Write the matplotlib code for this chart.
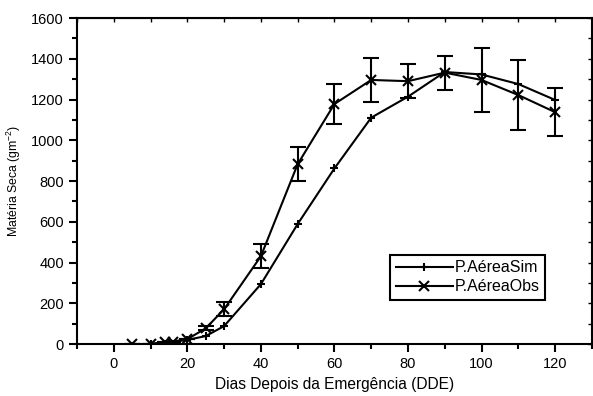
import numpy as np
import matplotlib
matplotlib.use('Agg')
import matplotlib.pyplot as plt
from matplotlib.ticker import MultipleLocator

plt.rcParams['font.family'] = ['Liberation Sans', 'DejaVu Sans']
plt.rcParams['mathtext.fontset'] = 'custom'
plt.rcParams['mathtext.rm'] = 'Liberation Sans'

#Simulated data
dias_sim = [10, 15, 20, 25, 30, 40, 50, 60, 70, 80, 90, 100, 110, 120]
ms_sim = [0, 8, 20, 39, 88, 294, 589, 862, 1111, 1214, 1335, 1323, 1276, 1198]

#Observed data
dias_obs = [5, 10, 14, 16, 20, 25, 30, 40, 50, 60, 70, 80, 90, 100, 110, 120]
ms_obs = [0, 0, 10, 12, 24, 77, 171, 431, 883, 1178, 1296, 1290, 1332, 1296, 1222, 1138]
erro_obs = [0, 0, 0, 0, 0, 10, 34, 60, 83, 98, 107, 84, 83, 155, 172, 117]

fig = plt.figure(figsize=(5.93, 3.96), dpi=100)
ax = fig.add_axes([0.13, 0.1313, 0.868, 0.8232])

ax.plot(dias_sim, ms_sim, color='black', lw=1.5, marker='+', ms=6, mew=1.5,
        label='P.AéreaSim')
ax.errorbar(dias_obs, ms_obs, yerr=erro_obs, fmt='none', ecolor='black',
            capsize=6, capthick=1.5, elinewidth=1.5)
ax.plot(dias_obs, ms_obs, color='black', lw=1.5, marker='x', ms=7, mew=1.5,
        label='P.AéreaObs')

ax.set_xlim(-10, 130)
ax.set_ylim(0, 1600)
ax.xaxis.set_major_locator(MultipleLocator(20))
ax.xaxis.set_minor_locator(MultipleLocator(10))
ax.yaxis.set_major_locator(MultipleLocator(200))
ax.yaxis.set_minor_locator(MultipleLocator(100))

for s in ax.spines.values():
    s.set_linewidth(1.5)
ax.tick_params(which='both', direction='out', width=1.5, labelsize=10.5)
ax.tick_params(which='major', length=6)
ax.tick_params(which='minor', length=3.5)
ax.tick_params(axis='both', which='both', top=False, right=False)

#Inner ticks on top and right
ax_t = ax.secondary_xaxis('top')
ax_t.xaxis.set_major_locator(MultipleLocator(10))
ax_t.tick_params(direction='in', length=3, width=1, labeltop=False)
ax_r = ax.secondary_yaxis('right')
ax_r.yaxis.set_major_locator(MultipleLocator(100))
ax_r.tick_params(direction='in', length=3, width=1, labelright=False)

ax.set_xlabel('Dias Depois da Emergência (DDE)', fontsize=11.2)
ax.set_ylabel('Matéria Seca (gm$^{-2}$)', fontsize=8.8, labelpad=6)

leg = ax.legend(loc='lower left', bbox_to_anchor=(0.608, 0.135), fontsize=11.5,
                fancybox=False, edgecolor='black', framealpha=1,
                handlelength=3.6, borderpad=0.35, labelspacing=0.25,
                handletextpad=0.1, borderaxespad=0)
leg.get_frame().set_linewidth(1.5)

fig.savefig('out.png', dpi=100)
